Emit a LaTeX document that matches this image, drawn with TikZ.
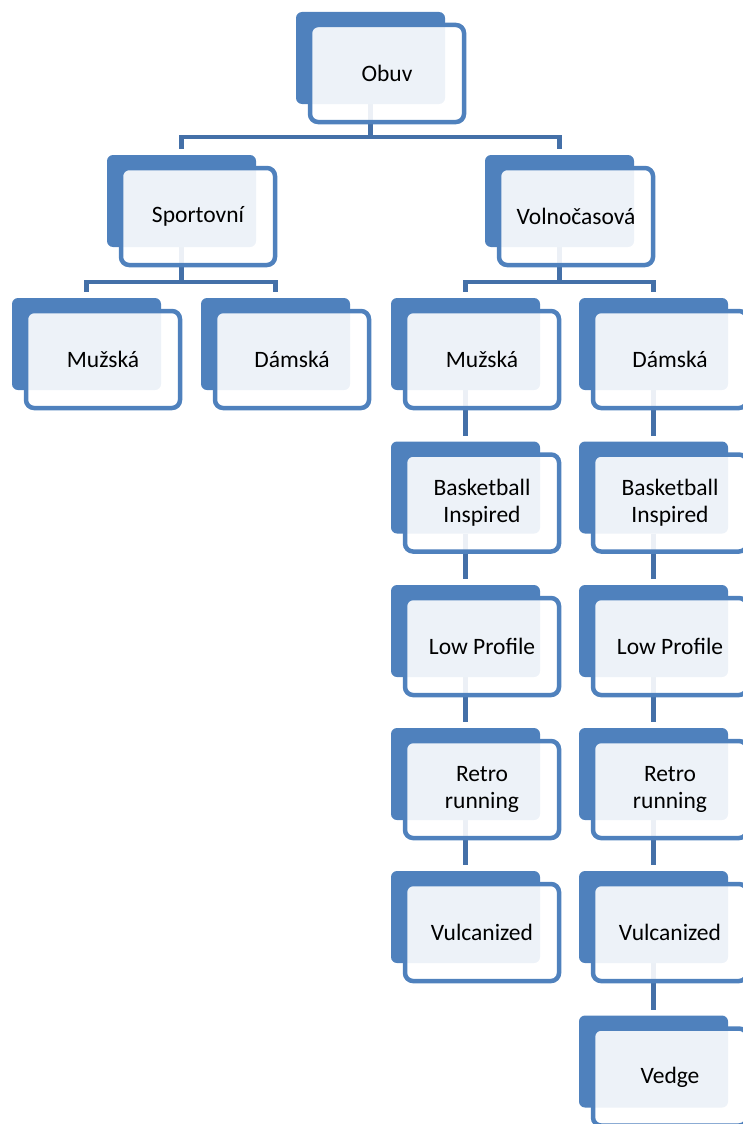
\documentclass[tikz,border=0pt]{standalone}
\usepackage{fontspec}
\setmainfont{Carlito}
\usetikzlibrary{backgrounds}
\definecolor{boxblue}{RGB}{79,129,189}
\definecolor{connblue}{RGB}{68,112,168}
\tikzset{
 backbox/.style={fill=boxblue, draw=none, rounded corners=6pt, minimum width=149pt, minimum height=92pt, inner sep=0pt, outer sep=0pt},
 frontbox/.style={draw=boxblue, line width=4.5pt, fill=white, fill opacity=0.9, text opacity=1, rounded corners=8pt, minimum width=154pt, minimum height=97pt, inner sep=0pt, outer sep=0pt, align=center, font=\fontsize{23.5}{27}\selectfont},
 conn/.style={draw=connblue, line width=4.7pt},
}
\newcommand{\elem}[4]{%
 \node[backbox] (#1-b) at (#2+74.5, #3+46) {};
 \node[frontbox] (#1) at (#2+91, #3+61.5) {#4};
}
\begin{document}
\begin{tikzpicture}[x=1pt,y=-1pt]
\useasboundingbox (0,0) rectangle (743,1124);
\clip (0,0) rectangle (743,1124);
\elem{obuv}{296}{12}{Obuv}
\elem{spo}{107}{155}{Sportovní}
\elem{vol}{485}{155}{Volnočasová}
\elem{lm}{12}{298}{Mužská}
\elem{ld}{201}{298}{Dámská}
\elem{rm}{391}{298}{Mužská}
\elem{rd}{579}{298}{Dámská}
\elem{rmb}{391}{441.5}{Basketball\\Inspired}
\elem{rml}{391}{585}{Low Profile}
\elem{rmr}{391}{728}{Retro\\running}
\elem{rmv}{391}{871}{Vulcanized}
\elem{rdb}{579}{441.5}{Basketball\\Inspired}
\elem{rdl}{579}{585}{Low Profile}
\elem{rdr}{579}{728}{Retro\\running}
\elem{rdv}{579}{871}{Vulcanized}
\elem{rdw}{579}{1015.5}{Vedge}
\begin{scope}[on background layer]
\draw[conn] (obuv-b.south) -- ++(0,33) -| ([yshift=6pt]spo-b.north);
\draw[conn] (obuv-b.south) -- ++(0,33) -| ([yshift=6pt]vol-b.north);
\draw[conn] (spo-b.south) -- ++(0,35) -| ([yshift=6pt]lm-b.north);
\draw[conn] (spo-b.south) -- ++(0,35) -| ([yshift=6pt]ld-b.north);
\draw[conn] (vol-b.south) -- ++(0,35) -| ([yshift=6pt]rm-b.north);
\draw[conn] (vol-b.south) -- ++(0,35) -| ([yshift=6pt]rd-b.north);
\draw[conn] (rm-b.south) -- ([yshift=6pt]rmb-b.north);
\draw[conn] (rmb-b.south) -- ([yshift=6pt]rml-b.north);
\draw[conn] (rml-b.south) -- ([yshift=6pt]rmr-b.north);
\draw[conn] (rmr-b.south) -- ([yshift=6pt]rmv-b.north);
\draw[conn] (rd-b.south) -- ([yshift=6pt]rdb-b.north);
\draw[conn] (rdb-b.south) -- ([yshift=6pt]rdl-b.north);
\draw[conn] (rdl-b.south) -- ([yshift=6pt]rdr-b.north);
\draw[conn] (rdr-b.south) -- ([yshift=6pt]rdv-b.north);
\draw[conn] (rdv-b.south) -- ([yshift=6pt]rdw-b.north);
\end{scope}
\end{tikzpicture}
\end{document}
